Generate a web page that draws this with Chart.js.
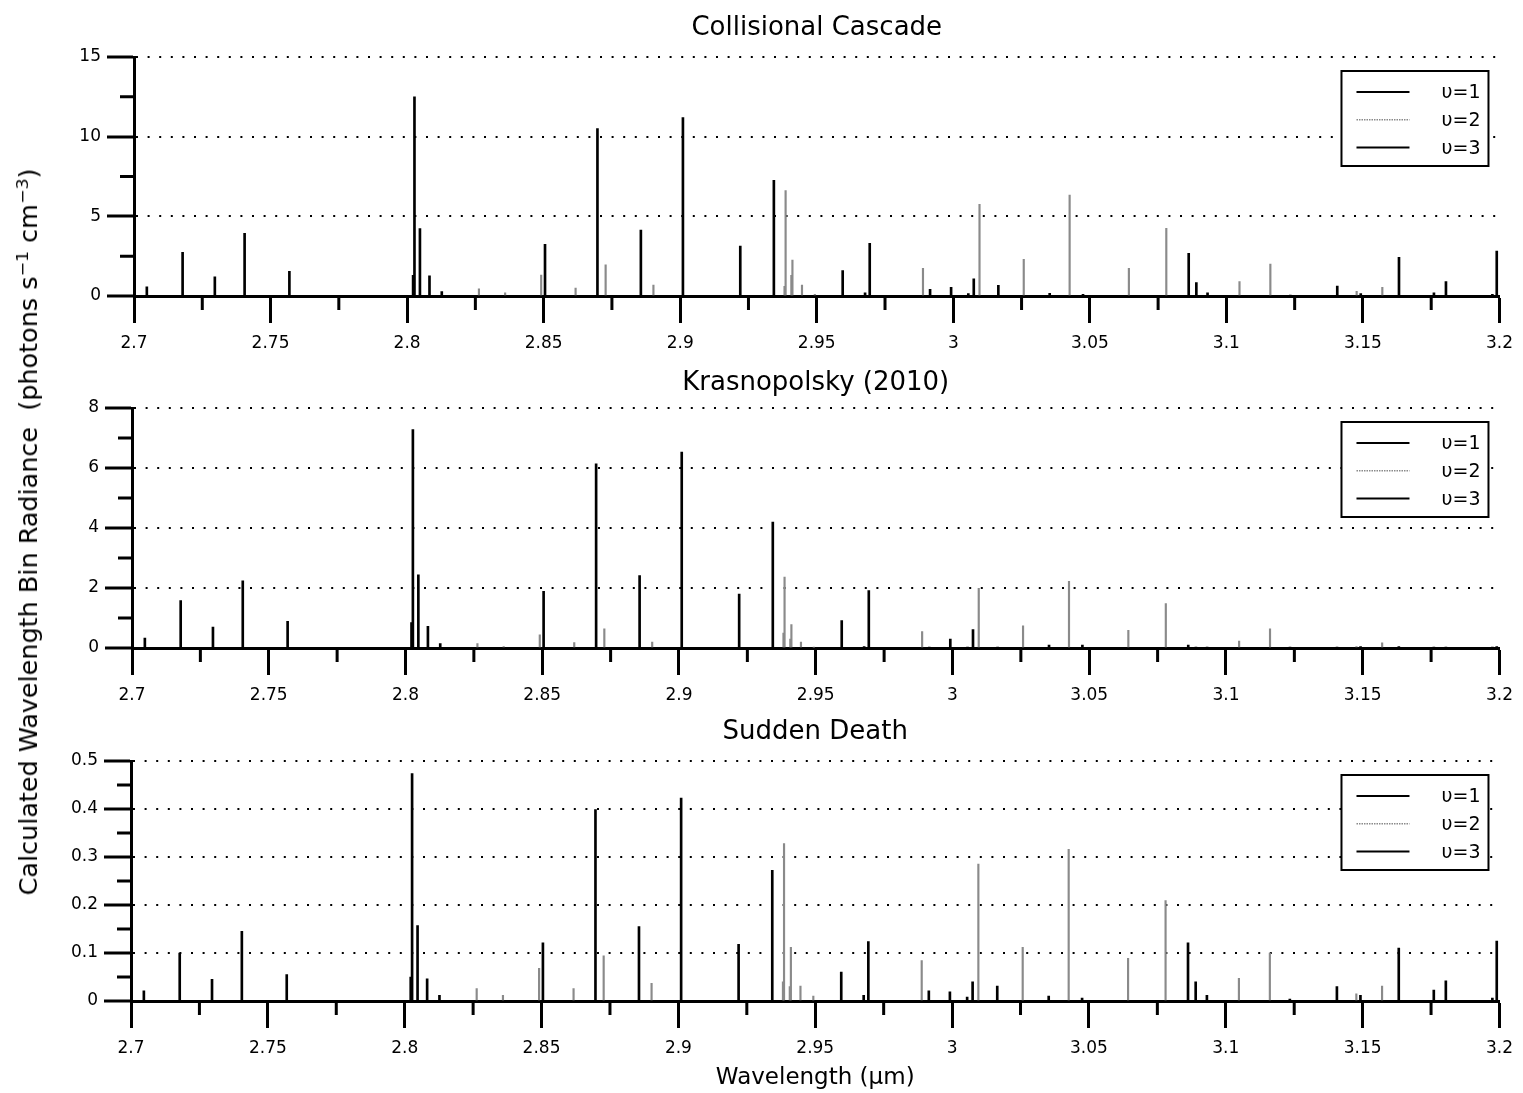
<!DOCTYPE html>
<html>
<head>
<meta charset="utf-8">
<script src="https://cdn.jsdelivr.net/npm/chart.js@4"></script>
<style>
  body { margin: 0; background: #fff; }
  #page { position: relative; width: 1523px; height: 1093px; overflow: hidden; }
  canvas { position: absolute; left: 0; }
  #ylabel {
    position: absolute; left: 29px; top: 532px;
    transform: translate(-50%, -50%) rotate(-90deg) scaleX(1.18);
    white-space: nowrap;
    font-family: "DejaVu Sans Condensed", "DejaVu Sans", sans-serif;
    font-size: 24px;
    color: #000;
  }
  #ylabel sup { font-size: 0.68em; vertical-align: 0.55em; line-height: 0; }
</style>
</head>
<body>
<div id="page">
  <canvas id="cascade" width="1523" height="366" style="top:0px"></canvas>
  <canvas id="kras" width="1523" height="368" style="top:350px"></canvas>
  <canvas id="death" width="1523" height="393" style="top:700px"></canvas>
  <div id="ylabel">Calculated Wavelength Bin Radiance&nbsp; (photons s<sup>−1</sup> cm<sup>−3</sup>)</div>
</div>
<script>
const FONT = '"DejaVu Sans", sans-serif';

const seriesLabels = ['υ=1', 'υ=2', 'υ=3'];
const xTickLabels = ['2.7', '2.75', '2.8', '2.85', '2.9', '2.95', '3', '3.05', '3.1', '3.15', '3.2'];

// line positions (µm) for each upper vibrational level
const v1Lines = [2.7047, 2.7178, 2.7296, 2.7405, 2.7569, 2.8022, 2.8027, 2.8047, 2.8082, 2.8127,
  2.8505, 2.8697, 2.8856, 2.9010, 2.9220, 2.9343, 2.9595, 2.9677, 2.9694, 2.9992, 3.0075];
const v2Lines = [2.8263, 2.8359, 2.8491, 2.8617, 2.8727, 2.8902, 2.9382, 2.9386, 2.9407, 2.9411,
  2.9446, 2.9493, 2.9889, 3.0096, 3.0258, 3.0426, 3.0643, 3.0780, 3.1048, 3.1161, 3.1477, 3.1571];
const v3Lines = [2.9915, 3.0055, 3.0165, 3.0353, 3.0475, 3.0862, 3.0890, 3.0931, 3.1234, 3.1406,
  3.1492, 3.1632, 3.1760, 3.1804, 3.1974, 3.1990];

// Collisional Cascade
const cascadeV1 = [0.58, 2.74, 1.21, 3.93, 1.55, 1.3, 12.5, 4.23, 1.27, 0.27,
  3.24, 10.5, 4.14, 11.2, 3.14, 7.26, 1.59, 0.2, 3.3, 0.55, 1.07];
const cascadeV2 = [0.45, 0.2, 1.32, 0.5, 1.95, 0.69, 0.6, 6.61, 1.3, 2.26,
  0.69, 0.1, 1.73, 5.75, 2.3, 6.34, 1.74, 4.25, 0.9, 2.0, 0.3, 0.55];
const cascadeV3 = [0.42, 0.15, 0.67, 0.17, 0.1, 2.68, 0.84, 0.2, 0.05, 0.63,
  0.15, 2.43, 0.2, 0.9, 0.1, 2.82];
const cascadeTicks = ['0', '5', '10', '15'];

// Krasnopolsky (2010)
const krasV1 = [0.33, 1.58, 0.7, 2.24, 0.89, 0.85, 7.28, 2.44, 0.72, 0.15,
  1.89, 6.14, 2.41, 6.53, 1.8, 4.2, 0.91, 0.05, 1.91, 0.3, 0.61];
const krasV2 = [0.15, 0.05, 0.44, 0.18, 0.64, 0.2, 0.5, 2.36, 0.3, 0.78,
  0.2, 0.03, 0.55, 1.99, 0.74, 2.22, 0.59, 1.48, 0.23, 0.64, 0.05, 0.17];
const krasV3 = [0.02, 0.02, 0.03, 0.1, 0.1, 0.1, 0.03, 0.02, 0.01, 0.03,
  0.05, 0.05, 0.02, 0.03, 0.02, 0.05];
const krasTicks = ['0', '2', '4', '6', '8'];

// Sudden Death
const deathV1 = [0.021, 0.10, 0.045, 0.145, 0.055, 0.05, 0.474, 0.157, 0.046, 0.012,
  0.121, 0.399, 0.155, 0.423, 0.118, 0.272, 0.060, 0.012, 0.124, 0.019, 0.04];
const deathV2 = [0.026, 0.012, 0.068, 0.026, 0.094, 0.037, 0.04, 0.328, 0.03, 0.112,
  0.031, 0.01, 0.084, 0.285, 0.112, 0.316, 0.089, 0.209, 0.047, 0.10, 0.015, 0.031];
const deathV3 = [0.021, 0.008, 0.031, 0.01, 0.006, 0.121, 0.04, 0.012, 0.004, 0.03,
  0.012, 0.11, 0.023, 0.042, 0.006, 0.125];
const deathTicks = ['0', '0.1', '0.2', '0.3', '0.4', '0.5'];

function spikes(lines, values) {
  return lines.map((x, i) => ({x, y: values[i]}));
}

// short ticks half way between the labelled ones
const minorTicks = {
  id: 'minorTicks',
  afterDraw(chart, args, opts) {
    const {ctx, chartArea, scales: {x, y}} = chart;
    ctx.save();
    ctx.strokeStyle = '#000';
    ctx.lineWidth = 3;
    ctx.beginPath();
    for (let v = x.min + opts.xStep / 2; v < x.max; v += opts.xStep) {
      const px = x.getPixelForValue(v);
      ctx.moveTo(px, chartArea.bottom);
      ctx.lineTo(px, chartArea.bottom + 14);
    }
    for (let v = y.min + opts.yStep / 2; v < y.max; v += opts.yStep) {
      const py = y.getPixelForValue(v);
      ctx.moveTo(chartArea.left, py);
      ctx.lineTo(chartArea.left - 14, py);
    }
    ctx.stroke();
    ctx.restore();
  }
};

// boxed legend in the top right corner
const boxLegend = {
  id: 'boxLegend',
  afterDraw(chart) {
    const {ctx, chartArea} = chart;
    const w = 147, h = 95;
    const left = chartArea.right - 11 - w;
    const top = chartArea.top + 14;
    ctx.save();
    ctx.fillStyle = '#fff';
    ctx.fillRect(left, top, w, h);
    ctx.strokeStyle = '#000';
    ctx.lineWidth = 2;
    ctx.strokeRect(left, top, w, h);
    ctx.font = '19px ' + FONT;
    ctx.textBaseline = 'middle';
    ctx.textAlign = 'left';
    chart.data.datasets.forEach((ds, i) => {
      const ry = top + 21 + i * 27.8;
      ctx.beginPath();
      ctx.strokeStyle = ds.backgroundColor;
      ctx.lineWidth = ds.legendWidth;
      ctx.setLineDash(ds.legendDash);
      ctx.moveTo(left + 15, ry);
      ctx.lineTo(left + 68, ry);
      ctx.stroke();
      ctx.setLineDash([]);
      ctx.fillStyle = '#000';
      ctx.fillText(ds.label, left + 100, ry + 1);
    });
    ctx.restore();
  }
};

function panel({elementName, title, titlePadding, v1, v2, v3, yMax, yStep, yTickLabels, left, right, xHeight, xTitle}) {
  const element = document.getElementById(elementName);
  new Chart(element, {
    type: 'bar',
    data: {
      datasets: [{
        label: seriesLabels[0],
        data: spikes(v1Lines, v1),
        backgroundColor: '#000',
        barThickness: 2,
        grouped: false,
        legendWidth: 2,
        legendDash: [],
      }, {
        label: seriesLabels[1],
        data: spikes(v2Lines, v2),
        backgroundColor: '#8a8a8a',
        barThickness: 1.5,
        grouped: false,
        legendWidth: 1.5,
        legendDash: [1.5, 1],
      }, {
        label: seriesLabels[2],
        data: spikes(v3Lines, v3),
        backgroundColor: '#000',
        barThickness: 2,
        grouped: false,
        legendWidth: 2,
        legendDash: [],
      }]
    },
    options: {
      responsive: false,
      animation: false,
      events: [],
      layout: {
        padding: {left: 0, right, top: 0, bottom: 0}
      },
      plugins: {
        legend: {display: false},
        tooltip: {enabled: false},
        title: {
          display: true,
          fullSize: false,
          text: title,
          color: '#000',
          font: {family: FONT, size: 26, weight: 'normal'},
          padding: titlePadding
        },
        minorTicks: {xStep: 0.05, yStep}
      },
      scales: {
        x: {
          type: 'linear',
          min: 2.7,
          max: 3.2,
          offset: false,
          grid: {
            offset: false,
            drawOnChartArea: false,
            drawTicks: true,
            tickLength: 27,
            tickWidth: 3,
            tickColor: '#000'
          },
          border: {display: true, width: 3, color: '#000'},
          ticks: {
            stepSize: 0.05,
            autoSkip: false,
            maxRotation: 0,
            padding: 10,
            color: '#000',
            font: {family: FONT, size: 17},
            callback: (v, i) => xTickLabels[i]
          },
          title: {
            display: !!xTitle,
            text: xTitle || '',
            color: '#000',
            font: {family: FONT, size: 23},
            padding: {top: 0, bottom: 1}
          },
          afterFit: (scale) => { scale.height = xHeight; }
        },
        y: {
          min: 0,
          max: yMax,
          grid: {
            color: '#000',
            lineWidth: 2,
            tickLength: 27,
            tickWidth: 3,
            tickColor: '#000',
            tickBorderDash: []
          },
          border: {display: true, width: 3, color: '#000', dash: [2, 9.6]},
          ticks: {
            stepSize: yStep,
            padding: 6,
            color: '#000',
            font: {family: FONT, size: 17},
            callback: (v, i) => yTickLabels[i]
          },
          afterFit: (scale) => { scale.width = left; }
        }
      }
    },
    plugins: [minorTicks, boxLegend]
  });
}

panel({
  elementName: 'cascade', title: 'Collisional Cascade', titlePadding: {top: 13, bottom: 12.8},
  v1: cascadeV1, v2: cascadeV2, v3: cascadeV3,
  yMax: 15, yStep: 5, yTickLabels: cascadeTicks,
  left: 134, right: 20, xHeight: 70
});

panel({
  elementName: 'kras', title: 'Krasnopolsky (2010)', titlePadding: {top: 18, bottom: 8.8},
  v1: krasV1, v2: krasV2, v3: krasV3,
  yMax: 8, yStep: 2, yTickLabels: krasTicks,
  left: 132, right: 21, xHeight: 70
});

panel({
  elementName: 'death', title: 'Sudden Death', titlePadding: {top: 17, bottom: 12.8},
  v1: deathV1, v2: deathV2, v3: deathV3,
  yMax: 0.5, yStep: 0.1, yTickLabels: deathTicks,
  left: 131, right: 23, xHeight: 92, xTitle: 'Wavelength (μm)'
});
</script>
</body>
</html>
